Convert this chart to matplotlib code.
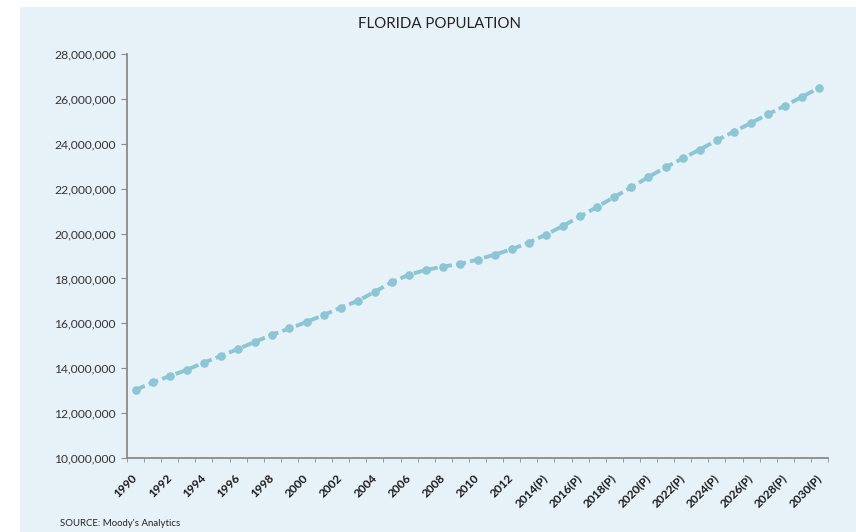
import matplotlib
matplotlib.use("Agg")
import matplotlib.pyplot as plt
from matplotlib.patches import Rectangle
from matplotlib.ticker import FuncFormatter

plt.rcParams['font.family'] = ['Lato', 'DejaVu Sans']

# Florida population, millions (1990 - 2030, 2014 onward projected)
years = list(range(1990, 2031))
population = [13.03, 13.37, 13.65, 13.93, 14.25, 14.55, 14.86, 15.18, 15.50, 15.77,
              16.06, 16.37, 16.70, 17.00, 17.41, 17.84, 18.17, 18.38, 18.53, 18.65,
              18.84, 19.06, 19.30, 19.60, 19.95, 20.34, 20.76, 21.19, 21.63, 22.06,
              22.52, 22.95, 23.35, 23.74, 24.16, 24.54, 24.93, 25.32, 25.70, 26.10,
              26.50]
labels = [str(y) if y < 2014 else str(y) + "(P)" for y in years]

bg = "#e7f2f8"
line_color = "#8cc5d3"
spine_color = "#8a8a8a"

fig = plt.figure(figsize=(8.56, 5.32), dpi=100)
fig.patch.set_facecolor("white")
fig.patches.append(Rectangle((20 / 856, 0), 1, 1 - 7 / 532, transform=fig.transFigure,
                             facecolor=bg, edgecolor="none", zorder=-10))

ax = fig.add_axes([127 / 856, 1 - 458 / 532, (828 - 127) / 856, (458 - 54) / 532])
ax.set_facecolor(bg)

x = list(range(len(years)))
ax.plot(x, [p * 1e6 for p in population], color=line_color, lw=2.8,
        dashes=(2.6, 1.1), marker="o", markersize=6.2, markeredgewidth=0,
        clip_on=False)

ax.set_xlim(-0.5, len(years) - 0.5)
ax.set_ylim(10e6, 28e6)
ax.set_yticks([v * 1e6 for v in range(10, 29, 2)])
ax.yaxis.set_major_formatter(FuncFormatter(lambda v, p: f"{int(v):,}"))

# category boundaries get small ticks, labels every other year
ax.set_xticks([i - 0.5 for i in range(len(years) + 1)], minor=True)
ax.set_xticks(x[::2])
ax.set_xticklabels(labels[::2], rotation=45, ha="right", rotation_mode="anchor",
                   fontsize=8.6, fontweight="bold", color="#1a1a1a")
for t in ax.get_xticklabels():
    t.set_va("center")
ax.tick_params(axis="x", which="major", length=0, pad=13)
ax.tick_params(axis="x", which="minor", length=3, color=spine_color, direction="out")
ax.tick_params(axis="y", length=4, color=spine_color, labelsize=8.7, labelcolor="#333333", pad=4)

for s in ["top", "right"]:
    ax.spines[s].set_visible(False)
for s in ["left", "bottom"]:
    ax.spines[s].set_color(spine_color)
    ax.spines[s].set_linewidth(1.3)

fig.text(440 / 856, 1 - 24 / 532, "FLORIDA POPULATION", ha="center", va="center",
         fontsize=10.8, color="#222222")
fig.text(60 / 856, 1 - 523 / 532, "SOURCE: Moody's Analytics", ha="left", va="center",
         fontsize=6.9, color="#222222")

fig.savefig("out.png", dpi=100, facecolor=fig.get_facecolor())
